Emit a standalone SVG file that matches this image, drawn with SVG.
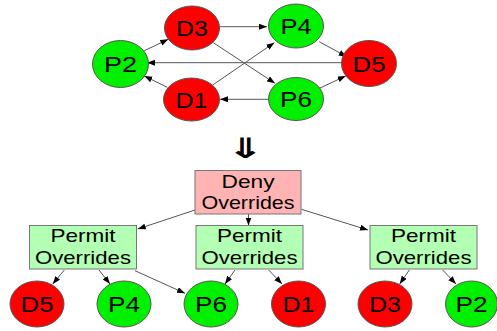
<svg xmlns="http://www.w3.org/2000/svg" width="497" height="331" viewBox="0 0 497 331">
<defs>
<marker id="ah" markerUnits="userSpaceOnUse" markerWidth="9" markerHeight="7" refX="8" refY="3" orient="auto">
<path d="M0,0 L8,3 L0,6 z" fill="#000"/>
</marker>
<style>
.red{fill:#ff0000;stroke:#555;stroke-width:1}
.grn{fill:#00f000;stroke:#555;stroke-width:1}
.deny{fill:#ffb3b3;stroke:#777;stroke-width:1}
.perm{fill:#b3ffb3;stroke:#777;stroke-width:1}
.lbl{font-family:"Liberation Sans",Arial,sans-serif;font-size:22px;fill:#000;text-anchor:middle}
.btx{font-family:"Liberation Sans",Arial,sans-serif;font-size:19px;fill:#000;text-anchor:middle}
.edge{stroke:#555;stroke-width:1;fill:none;marker-end:url(#ah)}
</style>
</defs>
<rect width="497" height="331" fill="#fff"/>
<g id="connectors">
<line class="edge" x1="144.3" y1="50.7" x2="168.3" y2="39.3"/>
<line class="edge" x1="220" y1="26.7" x2="267" y2="26.7"/>
<line class="edge" x1="213.3" y1="42.7" x2="275" y2="83.3"/>
<line class="edge" x1="212.7" y1="85" x2="274.3" y2="42.7"/>
<line class="edge" x1="319.3" y1="41.7" x2="346.7" y2="56.7"/>
<line class="edge" x1="319.3" y1="88.3" x2="345.7" y2="76"/>
<line class="edge" x1="341.7" y1="62.7" x2="147" y2="62.7"/>
<line class="edge" x1="268.3" y1="99.3" x2="220" y2="99.3"/>
<line class="edge" x1="167.3" y1="87.3" x2="144.3" y2="76"/>
<line class="edge" x1="195" y1="210" x2="137.7" y2="229"/>
<line class="edge" x1="248.5" y1="214" x2="248.5" y2="225.5"/>
<line class="edge" x1="301.5" y1="209.3" x2="368" y2="230"/>
<line class="edge" x1="64.3" y1="270" x2="52.7" y2="284"/>
<line class="edge" x1="99" y1="270" x2="110" y2="284"/>
<line class="edge" x1="135" y1="270.7" x2="185" y2="293.3"/>
<line class="edge" x1="235" y1="270" x2="225" y2="284"/>
<line class="edge" x1="268.7" y1="270" x2="282" y2="284"/>
<line class="edge" x1="409.3" y1="270" x2="399.7" y2="284"/>
<line class="edge" x1="442.7" y1="270" x2="456" y2="284"/>
</g>
<g id="top-P2"><ellipse class="grn" cx="120.5" cy="64" rx="28" ry="23.5"/><text class="lbl" x="120.5" y="72" textLength="33" lengthAdjust="spacingAndGlyphs">P2</text></g>
<g id="top-D3"><ellipse class="red" cx="192" cy="28" rx="27.5" ry="22"/><text class="lbl" x="192" y="36" textLength="32" lengthAdjust="spacingAndGlyphs">D3</text></g>
<g id="top-P4"><ellipse class="grn" cx="296" cy="26" rx="27.5" ry="22"/><text class="lbl" x="296" y="34" textLength="31" lengthAdjust="spacingAndGlyphs">P4</text></g>
<g id="top-D5"><ellipse class="red" cx="369" cy="63.5" rx="27.5" ry="23"/><text class="lbl" x="369" y="71.5" textLength="33" lengthAdjust="spacingAndGlyphs">D5</text></g>
<g id="top-D1"><ellipse class="red" cx="191.5" cy="99.5" rx="28" ry="21.5"/><text class="lbl" x="191.5" y="107.5" textLength="32" lengthAdjust="spacingAndGlyphs">D1</text></g>
<g id="top-P6"><ellipse class="grn" cx="296" cy="99" rx="27.5" ry="21.5"/><text class="lbl" x="296" y="107" textLength="32" lengthAdjust="spacingAndGlyphs">P6</text></g>
<text transform="translate(245,158) scale(1.6,1)" x="0" y="0" font-family="DejaVu Sans,sans-serif" font-size="28" font-weight="bold" text-anchor="middle" fill="#000">⇓</text>
<g id="deny"><rect class="deny" x="195" y="170.5" width="106" height="43.5"/><text class="btx" x="248" y="188" textLength="53" lengthAdjust="spacingAndGlyphs">Deny</text><text class="btx" x="248" y="209" textLength="93" lengthAdjust="spacingAndGlyphs">Overrides</text></g>
<g id="permit-left"><rect class="perm" x="29.5" y="225.5" width="107" height="43.5"/><text class="btx" x="83" y="242" textLength="65" lengthAdjust="spacingAndGlyphs">Permit</text><text class="btx" x="83" y="263.5" textLength="96" lengthAdjust="spacingAndGlyphs">Overrides</text></g>
<g id="permit-mid"><rect class="perm" x="196" y="225.5" width="107" height="43.5"/><text class="btx" x="249.5" y="242" textLength="65" lengthAdjust="spacingAndGlyphs">Permit</text><text class="btx" x="249.5" y="263.5" textLength="96" lengthAdjust="spacingAndGlyphs">Overrides</text></g>
<g id="permit-right"><rect class="perm" x="370" y="225.5" width="107" height="43.5"/><text class="btx" x="423.5" y="242" textLength="65" lengthAdjust="spacingAndGlyphs">Permit</text><text class="btx" x="423.5" y="263.5" textLength="96" lengthAdjust="spacingAndGlyphs">Overrides</text></g>
<g id="leaf-D5"><ellipse class="red" cx="37" cy="304" rx="27" ry="23"/><text class="lbl" x="37" y="312" textLength="33" lengthAdjust="spacingAndGlyphs">D5</text></g>
<g id="leaf-P4"><ellipse class="grn" cx="124" cy="304" rx="27" ry="23"/><text class="lbl" x="124" y="312" textLength="32" lengthAdjust="spacingAndGlyphs">P4</text></g>
<g id="leaf-P6"><ellipse class="grn" cx="211" cy="304" rx="27" ry="23"/><text class="lbl" x="211" y="312" textLength="32" lengthAdjust="spacingAndGlyphs">P6</text></g>
<g id="leaf-D1"><ellipse class="red" cx="298.5" cy="304" rx="27" ry="23"/><text class="lbl" x="298.5" y="312" textLength="32" lengthAdjust="spacingAndGlyphs">D1</text></g>
<g id="leaf-D3"><ellipse class="red" cx="385" cy="304" rx="27" ry="23"/><text class="lbl" x="385" y="312" textLength="32" lengthAdjust="spacingAndGlyphs">D3</text></g>
<g id="leaf-P2"><ellipse class="grn" cx="471.5" cy="304" rx="26" ry="23"/><text class="lbl" x="471.5" y="312" textLength="32" lengthAdjust="spacingAndGlyphs">P2</text></g>
</svg>
